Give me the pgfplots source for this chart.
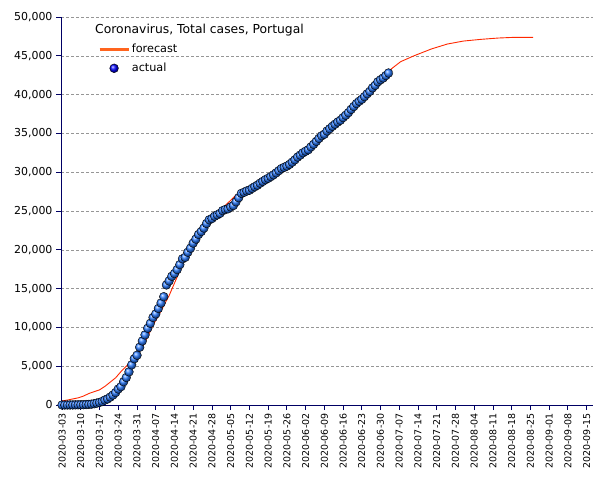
\documentclass[border=0pt]{standalone}
\usepackage{fontspec}
\setmainfont{DejaVu Sans}
\usepackage{pgfplots}
\pgfplotsset{compat=1.18}
\definecolor{navy}{RGB}{0,0,100}
\definecolor{fcred}{RGB}{255,40,0}
\definecolor{fcorange}{RGB}{255,100,30}
\definecolor{ballblue}{RGB}{45,125,255}
\definecolor{gridgray}{RGB}{150,150,150}
\begin{document}
\begin{tikzpicture}
\useasboundingbox (-61bp,-75bp) rectangle (544bp,405bp);
\begin{axis}[
  width=532bp, height=388bp, scale only axis,
  xmin=0.6, xmax=199.4, ymin=0, ymax=50000,
  axis lines=left, axis line style={-, navy, line width=0.8pt},
  tick style={navy, line width=0.8pt}, major tick length=5bp,
  tick align=outside, tick pos=left,
  ytick={0,5000,...,50000},
  scaled y ticks=false,
  /pgf/number format/1000 sep={,},
  /pgf/number format/assume math mode=true,
  yticklabel style={font=\fontsize{11}{12}\selectfont},
  ymajorgrids, major grid style={gridgray, dash pattern=on 3bp off 2bp, line width=0.6pt},
  xtick={1,8,...,197},
  xticklabels={2020-03-03,2020-03-10,2020-03-17,2020-03-24,2020-03-31,2020-04-07,2020-04-14,2020-04-21,2020-04-28,2020-05-05,2020-05-12,2020-05-19,2020-05-26,2020-06-02,2020-06-09,2020-06-16,2020-06-23,2020-06-30,2020-07-07,2020-07-14,2020-07-21,2020-07-28,2020-08-04,2020-08-11,2020-08-18,2020-08-25,2020-09-01,2020-09-08,2020-09-15},
  xticklabel style={rotate=90, anchor=east, font=\fontsize{9.5}{10}\selectfont},
  clip=false,
  legend style={at={(rel axis cs:0.068,0.938)}, anchor=north west, draw=none, fill=none,
    font=\fontsize{11.3}{12}\selectfont, row sep=5bp, inner sep=1bp},
  legend cell align=left,
]
\addplot[fcred, line width=0.9pt, mark=none,
  legend image code/.code={\draw[fcorange, line width=2.5pt] (0bp,0bp) -- (29bp,0bp);}]
coordinates {
(1,515)(3,640)(5,780)(7,920)(9,1150)(11,1480)(13,1720)(15,1950)(17,2400)(19,2950)
(21,3500)(23,4300)(25,5000)(27,5650)(29,6400)(31,7500)(33,8800)(35,10300)(37,11500)
(39,12800)(41,14100)(43,15700)(45,17300)(47,18800)(49,20000)(51,21200)(53,22300)
(55,23300)(57,24100)(59,24800)(61,25400)(63,26050)(66,27050)(69,27400)(72,27950)
(76,28850)(80,29700)(84,30650)(88,31650)(92,32900)(96,34200)(100,35400)(104,36600)
(108,37800)(112,39150)(116,40450)(120,41950)(123,42850)(124,43300)(127.5,44240)
(132.5,45000)(139,45880)(145,46520)(151,46900)(157.5,47120)(164,47290)(170,47380)(177,47380)
};
\addlegendentry{forecast}
\addplot[only marks, mark=ball, mark size=4.4bp, mark options={ball color=ballblue},
  legend image code/.code={\pgfuseplotmark{ball}\hspace{0pt}},
  legend image post style={xshift=14.5bp}]
coordinates {
(1,2)(2,4)(3,6)(4,9)(5,13)(6,21)(7,30)(8,39)(9,41)(10,59)
(11,78)(12,112)(13,169)(14,245)(15,331)(16,448)(17,642)(18,785)(19,1020)(20,1280)
(21,1600)(22,2060)(23,2362)(24,2995)(25,3544)(26,4268)(27,5170)(28,5962)(29,6408)(30,7443)
(31,8251)(32,9034)(33,9886)(34,10524)(35,11278)(36,11730)(37,12442)(38,13141)(39,13956)(40,15472)
(41,15987)(42,16585)(43,16934)(44,17448)(45,18091)(46,18841)(47,19022)(48,19685)(49,20206)(50,20863)
(51,21379)(52,21982)(53,22353)(54,22797)(55,23392)(56,23864)(57,24027)(58,24322)(59,24505)(60,24692)
(61,25045)(62,25190)(63,25282)(64,25524)(65,25702)(66,26182)(67,26715)(68,27268)(69,27406)(70,27581)
(71,27679)(72,27913)(73,28132)(74,28319)(75,28583)(76,28810)(77,29036)(78,29209)(79,29432)(80,29660)
(81,29912)(82,30200)(83,30471)(84,30623)(85,30788)(86,31007)(87,31292)(88,31596)(89,31946)(90,32203)
(91,32500)(92,32700)(93,32895)(94,33261)(95,33592)(96,33969)(97,34351)(98,34693)(99,34885)(100,35306)
(101,35600)(102,35910)(103,36180)(104,36463)(105,36690)(106,37036)(107,37336)(108,37672)(109,38089)(110,38464)
(111,38841)(112,39133)(113,39392)(114,39737)(115,40104)(116,40415)(117,40866)(118,41189)(119,41646)(120,41912)
(121,42141)(122,42454)(123,42782)
};
\addlegendentry{actual}
\node[anchor=west, inner sep=0pt, font=\fontsize{12.4}{13}\selectfont] at (rel axis cs:0.064,0.965) {Coronavirus, Total cases, Portugal};
\end{axis}
\end{tikzpicture}
\end{document}
